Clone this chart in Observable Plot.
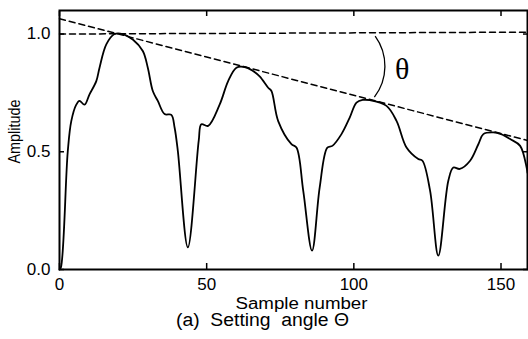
<!DOCTYPE html>
<html>
<head>
<meta charset="utf-8">
<script src="https://cdn.jsdelivr.net/npm/d3@7"></script>
<script src="https://cdn.jsdelivr.net/npm/@observablehq/plot@0.6"></script>
<style>
  html, body { margin: 0; padding: 0; background: #fff; }
  svg { display: block; }
</style>
</head>
<body>
<div id="chart"></div>
<script>
// Sample number and amplitude
const samples   = [0, 0.5, 2.8, 4.0, 5.7, 6.8, 8.5, 10.2, 12.5, 13.6, 15.9, 18.7, 21.5, 24.9, 28.3, 30, 31.7, 33.4, 35.7, 38, 39.1, 40.2, 43.6, 47.3, 48.2, 50.5, 54.4, 57.3, 60.1, 62.9, 65.5, 68, 70.9, 72, 74.3, 78.8, 80.5, 82.8, 85.8, 88.4, 91.0, 92.7, 95.8, 98.6, 100.9, 103, 105.4, 111.1, 114.5, 117.9, 121.9, 123.3, 125.9, 128.7, 132.1, 133.8, 136, 139.5, 142.3, 144, 147.4, 150, 153.1, 156.5, 158.7, 159];
const amplitude = [0, 0.01, 0.50, 0.63, 0.70, 0.716, 0.70, 0.744, 0.80, 0.857, 0.956, 1.0, 1.0, 0.977, 0.928, 0.857, 0.758, 0.716, 0.66, 0.657, 0.603, 0.504, 0.094, 0.547, 0.617, 0.61, 0.70, 0.80, 0.857, 0.86, 0.845, 0.82, 0.772, 0.758, 0.63, 0.532, 0.518, 0.335, 0.08, 0.349, 0.518, 0.525, 0.575, 0.645, 0.709, 0.72, 0.719, 0.695, 0.631, 0.518, 0.469, 0.462, 0.335, 0.059, 0.377, 0.433, 0.427, 0.462, 0.532, 0.575, 0.582, 0.575, 0.554, 0.525, 0.433, 0.41];

// Dashed reference lines (start and end of the sample range)
const refX   = [0, 159];
const horizY = [1.0, 1.008];
const slantY = [1.065, 0.548];

// Ticks
const xTicks = [0, 50, 100, 150];
const yTicks = [0, 0.5, 1.0];

// Texts
const xLabel = "Sample number";
const yLabel = "Amplitude";
const caption = "(a)  Setting  angle \u0398";
const thetaLabel = "\u03b8";
const thetaPos = {x: 116.4, y: 0.849};
const arcSpec = {x: 93.4, y: 0.862, r: 51, a0: -36, a1: 37.5};

const signal = samples.map((s, i) => ({s, a: amplitude[i]}));
const horiz = refX.map((s, i) => ({s, a: horizY[i]}));
const slant = refX.map((s, i) => ({s, a: slantY[i]}));

const font = "Liberation Sans, Arial, Helvetica, sans-serif";

const plot = Plot.plot({
  width: 528,
  height: 339,
  marginLeft: 59,
  marginRight: 1,
  marginTop: 10,
  marginBottom: 70,
  style: {fontFamily: font, fontSize: "17px", color: "#000", background: "#fff"},
  x: {domain: [0, 159]},
  y: {domain: [0, 1.1]},
  marks: [
    Plot.line(horiz, {x: "s", y: "a", stroke: "#000", strokeWidth: 1.5, strokeDasharray: "6,4"}),
    Plot.line(slant, {x: "s", y: "a", stroke: "#000", strokeWidth: 1.5, strokeDasharray: "6,4"}),
    Plot.line(signal, {x: "s", y: "a", stroke: "#000", strokeWidth: 1.8, curve: "catmull-rom"}),
    Plot.frame({stroke: "#000", strokeWidth: 2}),
    // tick labels
    Plot.axisY({ticks: yTicks, tickSize: 0, tickPadding: 9, tickFormat: d3.format(".1f"), fontSize: 17, label: null}),
    Plot.axisX({ticks: xTicks, tickSize: 0, tickPadding: 8, tickFormat: d3.format("d"), fontSize: 17, label: null}),
    // inward tick marks
    Plot.axisY({ticks: yTicks, tickSize: 5, dx: 5, tickFormat: () => "", label: null, strokeWidth: 1.5}),
    Plot.axisY({anchor: "right", ticks: yTicks, tickSize: 5, dx: -5, tickFormat: () => "", label: null, strokeWidth: 1.5}),
    Plot.axisX({ticks: xTicks, tickSize: 6, dy: -6, tickFormat: () => "", label: null, strokeWidth: 1.5}),
    Plot.axisX({anchor: "top", ticks: xTicks, tickSize: 5, dy: 5, tickFormat: () => "", label: null, strokeWidth: 1.5}),
    // labels
    Plot.text([xLabel], {frameAnchor: "bottom", text: d => d, dx: 8, dy: 34, fontSize: 16, lineAnchor: "middle"}),
    Plot.text([caption], {frameAnchor: "bottom", text: d => d, dx: -31, dy: 51, fontSize: 18, lineAnchor: "middle"}),
    Plot.text([yLabel], {frameAnchor: "left", text: d => d, dx: -45, dy: -8.5, rotate: -90, textAnchor: "middle", fontSize: 16, lineAnchor: "middle"}),
    Plot.text([thetaPos], {x: "x", y: "y", text: () => thetaLabel, fontSize: 30, fontFamily: "Liberation Serif, Times New Roman, serif", lineAnchor: "middle"})
  ]
});

document.getElementById("chart").appendChild(plot);

// angle arc annotation, placed through the plot's scales
const xs = plot.scale("x"), ys = plot.scale("y");
const cx = xs.apply(arcSpec.x), cy = ys.apply(arcSpec.y);
const rad = d => d * Math.PI / 180;
const x0 = cx + arcSpec.r * Math.cos(rad(arcSpec.a0)), y0 = cy + arcSpec.r * Math.sin(rad(arcSpec.a0));
const x1 = cx + arcSpec.r * Math.cos(rad(arcSpec.a1)), y1 = cy + arcSpec.r * Math.sin(rad(arcSpec.a1));
d3.select(plot).append("path")
  .attr("d", `M${x0},${y0}A${arcSpec.r},${arcSpec.r} 0 0 1 ${x1},${y1}`)
  .attr("fill", "none").attr("stroke", "#000").attr("stroke-width", 1.3);

// stretch label widths to match the reference lettering
d3.select(plot).selectAll("text").each(function() {
  const t = this.textContent;
  if (t === xLabel) d3.select(this).attr("textLength", 132).attr("lengthAdjust", "spacingAndGlyphs");
  if (t === caption) d3.select(this).attr("textLength", 173).attr("lengthAdjust", "spacingAndGlyphs");
  if (t === yLabel) d3.select(this).attr("textLength", 64).attr("lengthAdjust", "spacingAndGlyphs");
});
</script>
</body>
</html>
